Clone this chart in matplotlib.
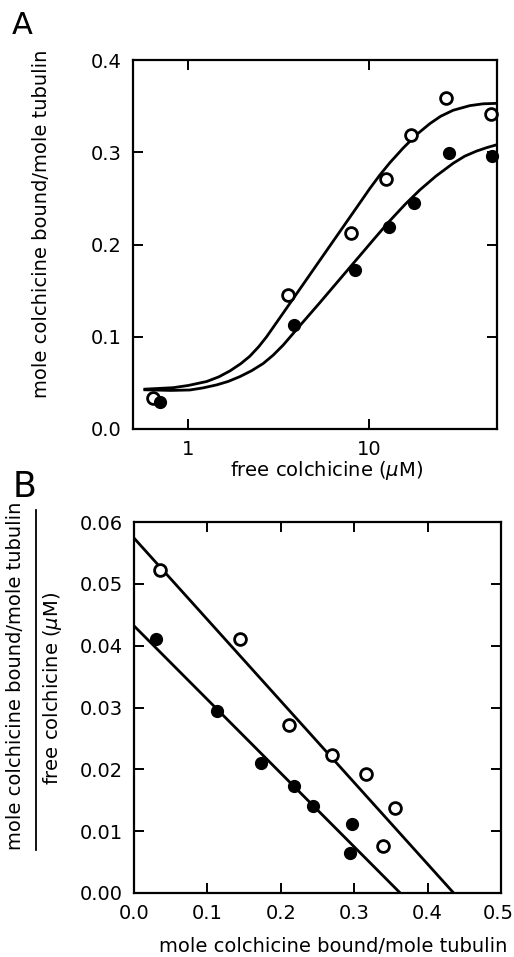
import numpy as np
import matplotlib
matplotlib.use("Agg")
import matplotlib.pyplot as plt
import matplotlib.transforms as mtransforms
from matplotlib.lines import Line2D

plt.rcParams['font.family'] = ['DejaVu Sans']
plt.rcParams['mathtext.fontset'] = 'dejavusans'

# ---------------- Panel A data ----------------
free_open = [0.64, 3.58, 7.92, 12.4, 17.1, 26.9, 47.6]
bound_open = [0.034, 0.145, 0.212, 0.271, 0.319, 0.359, 0.341]
free_filled = [0.70, 3.86, 8.36, 12.9, 17.8, 27.7, 48.4]
bound_filled = [0.029, 0.113, 0.172, 0.219, 0.245, 0.299, 0.296]

# fitted curves
curve_open_x = [0.575, 0.826, 1.0, 1.265, 1.479, 1.702, 1.95, 2.193, 2.455, 2.716, 3.214,
                3.656, 5.834, 8.913, 10.14, 11.48, 13.06, 15.49, 18.49, 21.78, 25.0,
                29.31, 36.22, 42.95, 50.93]
curve_open_y = [0.0432, 0.0448, 0.0472, 0.0515, 0.0566, 0.063, 0.0707, 0.0789, 0.0892,
                0.100, 0.1205, 0.1362, 0.1933, 0.245, 0.2608, 0.275, 0.2885, 0.3045,
                0.3195, 0.331, 0.339, 0.3455, 0.3505, 0.3525, 0.353]
curve_filled_x = [0.575, 0.80, 1.022, 1.202, 1.435, 1.66, 1.932, 2.239, 2.60, 2.951, 3.357,
                  4.15, 5.358, 6.902, 8.913, 10.89, 13.06, 15.89, 19.14, 23.5, 29.31,
                  33.96, 39.45, 44.98, 50.93]
curve_filled_y = [0.0425, 0.0418, 0.0423, 0.0445, 0.0478, 0.0515, 0.0568, 0.0631, 0.071,
                  0.080, 0.091, 0.112, 0.137, 0.1623, 0.1878, 0.2078, 0.2256, 0.2435,
                  0.259, 0.274, 0.288, 0.2957, 0.3012, 0.305, 0.308]

# ---------------- Panel B data ----------------
sc_x_open = [0.0359, 0.1445, 0.2118, 0.2695, 0.3164, 0.356, 0.339]
sc_y_open = [0.0523, 0.0410, 0.0271, 0.0223, 0.0192, 0.0137, 0.0076]
sc_x_filled = [0.0295, 0.113, 0.173, 0.218, 0.2436, 0.297, 0.2945]
sc_y_filled = [0.0410, 0.0294, 0.0211, 0.0173, 0.0141, 0.0112, 0.0065]

# Scatchard fit lines: (y-intercept, x-intercept)
line_open = (0.0574, 0.4355)
line_filled = (0.0432, 0.3627)

W, H = 514, 957
fig = plt.figure(figsize=(W / 100, H / 100), dpi=100)

def px_rect(l, t, r, b):
    return [l / W, 1 - b / H, (r - l) / W, (b - t) / H]

LW = 2.0
FS = 14

def style(ax):
    for s in ax.spines.values():
        s.set_linewidth(1.6)
    ax.tick_params(direction='in', length=7, width=1.4, top=True, right=True,
                   labelsize=FS, pad=8)
    ax.tick_params(which='minor', length=0)

# ---------------- Panel A ----------------
axA = fig.add_axes(px_rect(133, 60, 497, 429))
axA.set_xscale('log')
axA.plot(curve_open_x, curve_open_y, color='black', lw=LW, solid_joinstyle='round')
axA.plot(curve_filled_x, curve_filled_y, color='black', lw=LW, solid_joinstyle='round')
axA.plot(free_open, bound_open, 'o', mfc='white', mec='black', mew=2.0, ms=8.5, clip_on=False)
axA.plot(free_filled, bound_filled, 'o', mfc='black', mec='black', ms=8.5, clip_on=False)
axA.set_xlim(0.494, 51.3)
axA.set_ylim(0, 0.4)
axA.set_xticks([1, 10])
axA.set_xticklabels(['1', '10'])
axA.xaxis.set_minor_locator(matplotlib.ticker.NullLocator())
axA.set_yticks([0, 0.1, 0.2, 0.3, 0.4])
axA.set_yticklabels(['0.0', '0.1', '0.2', '0.3', '0.4'])
style(axA)

# ---------------- Panel B ----------------
axB = fig.add_axes(px_rect(134, 522, 501, 893))
axB.plot([0, line_open[1]], [line_open[0], 0], color='black', lw=LW)
axB.plot([0, line_filled[1]], [line_filled[0], 0], color='black', lw=LW)
axB.plot(sc_x_open, sc_y_open, 'o', mfc='white', mec='black', mew=2.0, ms=8.5)
axB.plot(sc_x_filled, sc_y_filled, 'o', mfc='black', mec='black', ms=8.5)
axB.set_xlim(0, 0.5)
axB.set_ylim(0, 0.06)
xt = [0, 0.1, 0.2, 0.3, 0.4, 0.5]
axB.set_xticks(xt)
axB.set_xticklabels(['%.1f' % v for v in xt])
yt = [0, 0.01, 0.02, 0.03, 0.04, 0.05, 0.06]
axB.set_yticks(yt)
axB.set_yticklabels(['%.2f' % v for v in yt])
style(axB)
last = axB.xaxis.get_major_ticks()[-1].label1
last.set_transform(mtransforms.offset_copy(last.get_transform(), fig=fig, x=-3, y=0, units='dots'))

# ---------------- Texts ----------------
def ftext(x, y, s, **kw):
    fig.text(x / W, 1 - y / H, s, ha='center', va='center', **kw)

ftext(22, 26, 'A', fontsize=22)
ftext(25, 487, 'B', fontsize=25)

ftext(42, 224, 'mole colchicine bound/mole tubulin', rotation=90, fontsize=FS)
ftext(327, 471, r'free colchicine ($\mu$M)', fontsize=FS)

ftext(16, 676, 'mole colchicine bound/mole tubulin', rotation=90, fontsize=FS)
fig.add_artist(Line2D([36 / W, 36 / W], [1 - 510 / H, 1 - 850 / H], color='black', lw=1.3))
ftext(53, 688, r'free colchicine ($\mu$M)', rotation=90, fontsize=FS)
ftext(333, 946, 'mole colchicine bound/mole tubulin', fontsize=FS)

fig.savefig('out.png', dpi=100)
